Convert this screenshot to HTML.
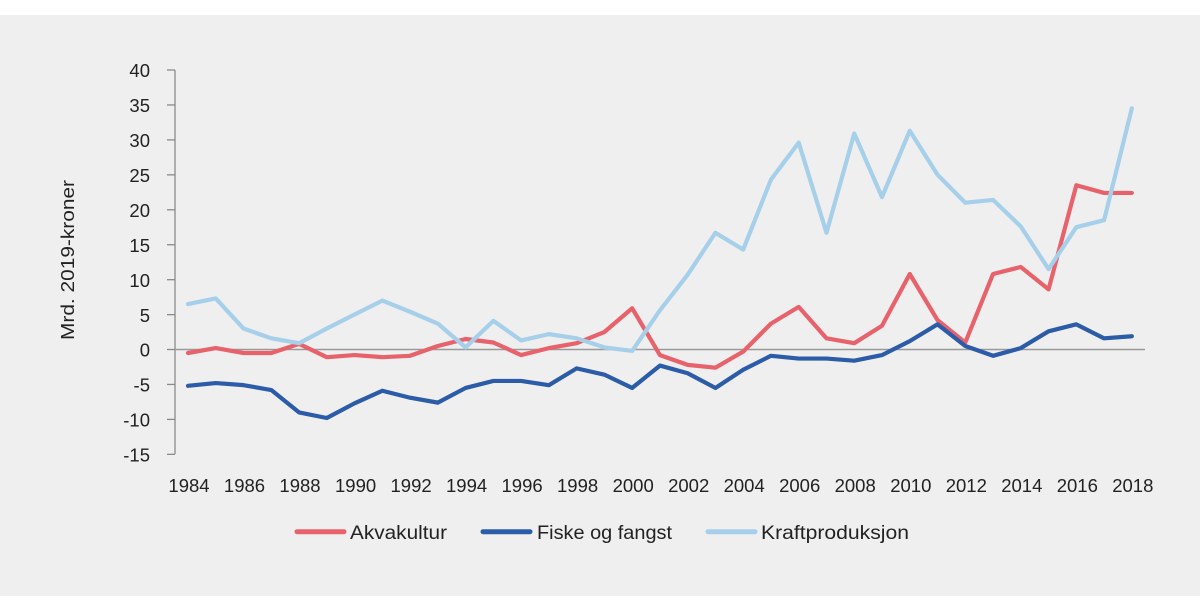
<!DOCTYPE html>
<html>
<head>
<meta charset="utf-8">
<style>
  html, body { margin: 0; padding: 0; background: #ffffff; }
  body { width: 1200px; height: 612px; overflow: hidden; }
  svg { display: block; }
  text { font-family: "Liberation Sans", "DejaVu Sans", sans-serif; fill: #222222; }
</style>
</head>
<body>
<svg width="1200" height="612" viewBox="0 0 1200 612" xmlns="http://www.w3.org/2000/svg">
  <rect x="0" y="0" width="1200" height="612" fill="#ffffff"/>
  <rect x="0" y="15" width="1200" height="581" fill="#efefef"/>

  <!-- y axis -->
  <line x1="175" y1="70" x2="175" y2="454" stroke="#8a8a8a" stroke-width="1.3"/>
  <g stroke="#8a8a8a" stroke-width="1.3">
    <line x1="167" y1="70" x2="175" y2="70"/>
    <line x1="167" y1="104.95" x2="175" y2="104.95"/>
    <line x1="167" y1="139.9" x2="175" y2="139.9"/>
    <line x1="167" y1="174.85" x2="175" y2="174.85"/>
    <line x1="167" y1="209.8" x2="175" y2="209.8"/>
    <line x1="167" y1="244.75" x2="175" y2="244.75"/>
    <line x1="167" y1="279.7" x2="175" y2="279.7"/>
    <line x1="167" y1="314.65" x2="175" y2="314.65"/>
    <line x1="167" y1="349.5" x2="175" y2="349.5"/>
    <line x1="167" y1="384.45" x2="175" y2="384.45"/>
    <line x1="167" y1="419.4" x2="175" y2="419.4"/>
    <line x1="167" y1="454.35" x2="175" y2="454.35"/>
  </g>
  <!-- zero line -->
  <line x1="175" y1="349.5" x2="1145" y2="349.5" stroke="#999999" stroke-width="1.6"/>

  <!-- y tick labels -->
  <g font-size="18.5" text-anchor="end">
    <text x="150" y="77">40</text>
    <text x="150" y="112">35</text>
    <text x="150" y="147">30</text>
    <text x="150" y="182">25</text>
    <text x="150" y="217">20</text>
    <text x="150" y="252">15</text>
    <text x="150" y="287">10</text>
    <text x="150" y="322">5</text>
    <text x="150" y="356.5">0</text>
    <text x="150" y="391.5">-5</text>
    <text x="150" y="426.5">-10</text>
    <text x="150" y="461.5">-15</text>
  </g>

  <!-- y axis title -->
  <text transform="translate(74,260) rotate(-90)" font-size="18.5" text-anchor="middle" textLength="160" lengthAdjust="spacingAndGlyphs">Mrd. 2019-kroner</text>

  <!-- x tick labels -->
  <g font-size="18.5" text-anchor="middle">
    <text x="189" y="492">1984</text>
    <text x="244.5" y="492">1986</text>
    <text x="300" y="492">1988</text>
    <text x="355.6" y="492">1990</text>
    <text x="411.1" y="492">1992</text>
    <text x="466.6" y="492">1994</text>
    <text x="522.1" y="492">1996</text>
    <text x="577.6" y="492">1998</text>
    <text x="633.2" y="492">2000</text>
    <text x="688.7" y="492">2002</text>
    <text x="744.2" y="492">2004</text>
    <text x="799.7" y="492">2006</text>
    <text x="855.2" y="492">2008</text>
    <text x="910.8" y="492">2010</text>
    <text x="966.3" y="492">2012</text>
    <text x="1021.8" y="492">2014</text>
    <text x="1077.3" y="492">2016</text>
    <text x="1132.8" y="492">2018</text>
  </g>

  <!-- series -->
  <g transform="translate(188,349.5) scale(27.76,-6.99)" fill="none" stroke-linejoin="round" stroke-linecap="round">
    <polyline vector-effect="non-scaling-stroke" stroke="#e8626b" stroke-width="4.2"
      points="0,-0.5 1,0.2 2,-0.5 3,-0.5 4,0.8 5,-1.1 6,-0.8 7,-1.1 8,-0.9 9,0.5 10,1.5 11,1.0 12,-0.8 13,0.2 14,0.9 15,2.5 16,5.9 17,-0.8 18,-2.2 19,-2.6 20,-0.3 21,3.7 22,6.1 23,1.6 24,0.9 25,3.4 26,10.8 27,4.2 28,1.0 29,10.8 30,11.8 31,8.6 32,23.5 33,22.4 34,22.4"/>
    <polyline vector-effect="non-scaling-stroke" stroke="#2c5ba8" stroke-width="4.2"
      points="0,-5.2 1,-4.8 2,-5.1 3,-5.8 4,-9.0 5,-9.8 6,-7.7 7,-5.9 8,-6.9 9,-7.6 10,-5.5 11,-4.5 12,-4.5 13,-5.1 14,-2.7 15,-3.6 16,-5.5 17,-2.3 18,-3.4 19,-5.5 20,-2.9 21,-0.9 22,-1.3 23,-1.3 24,-1.6 25,-0.8 26,1.2 27,3.6 28,0.5 29,-0.9 30,0.2 31,2.6 32,3.6 33,1.6 34,1.9"/>
    <polyline vector-effect="non-scaling-stroke" stroke="#a6cfea" stroke-width="4.2"
      points="0,6.5 1,7.3 2,3.0 3,1.6 4,0.9 5,3.0 6,5.0 7,7.0 8,5.4 9,3.7 10,0.3 11,4.1 12,1.3 13,2.2 14,1.6 15,0.3 16,-0.2 17,5.6 18,10.7 19,16.7 20,14.3 21,24.3 22,29.6 23,16.7 24,30.9 25,21.8 26,31.3 27,25.0 28,21.0 29,21.4 30,17.6 31,11.5 32,17.5 33,18.5 34,34.5"/>
  </g>

  <!-- legend -->
  <g stroke-width="5" stroke-linecap="round">
    <line x1="297" y1="531.7" x2="344" y2="531.7" stroke="#e8626b"/>
    <line x1="483" y1="531.7" x2="530" y2="531.7" stroke="#2c5ba8"/>
    <line x1="708" y1="531.7" x2="755" y2="531.7" stroke="#a6cfea"/>
  </g>
  <g font-size="19.5">
    <text x="350" y="539" textLength="97" lengthAdjust="spacingAndGlyphs">Akvakultur</text>
    <text x="537" y="539" textLength="135" lengthAdjust="spacingAndGlyphs">Fiske og fangst</text>
    <text x="761" y="539" textLength="148" lengthAdjust="spacingAndGlyphs">Kraftproduksjon</text>
  </g>
</svg>
</body>
</html>
